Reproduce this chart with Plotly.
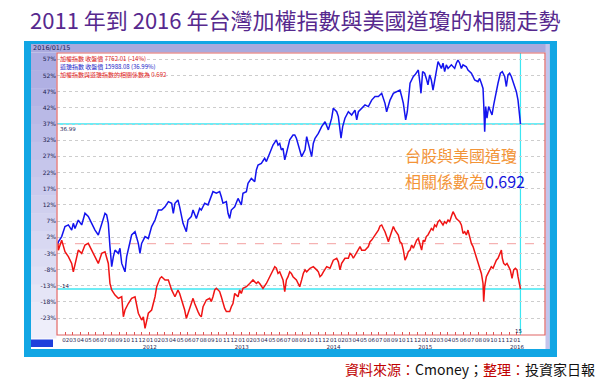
import numpy as np
import pandas as pd
import plotly.graph_objects as go

# ---------------- data ----------------
# time in years since 2011-01-01, values in % change since start
DJ_T = [0.000,0.004,0.040,0.076,0.113,0.149,0.167,0.185,0.221,0.258,0.294,0.330,0.367,0.403,0.439,0.476,0.512,0.530,0.548,0.566,
        0.585,0.603,0.621,0.657,0.675,0.694,0.730,0.748,0.784,0.802,0.839,0.875,0.893,0.911,0.948,0.984,1.020,1.057,1.093,1.129,
        1.166,1.202,1.238,1.256,1.274,1.307,1.325,1.344,1.362,1.398,1.416,1.452,1.471,1.507,1.543,1.561,1.598,1.634,1.670,1.688,
        1.725,1.761,1.779,1.797,1.834,1.852,1.870,1.888,1.925,1.961,1.997,2.015,2.052,2.070,2.106,2.143,2.161,2.179,2.215,2.251,
        2.270,2.306,2.342,2.379,2.397,2.415,2.433,2.451,2.470,2.488,2.524,2.560,2.579,2.597,2.633,2.654,2.691,2.709,2.727,2.763,
        2.781,2.800,2.836,2.872,2.909,2.927,2.945,2.981,2.999,3.036,3.054,3.072,3.083,3.101,3.126,3.163,3.199,3.235,3.254,3.272,
        3.308,3.344,3.381,3.417,3.453,3.490,3.526,3.562,3.580,3.617,3.653,3.689,3.725,3.744,3.762,3.787,3.805,3.835,3.871,3.889,
        3.925,3.943,3.954,3.972,3.994,4.012,4.030,4.049,4.067,4.085,4.103,4.121,4.140,4.158,4.176,4.194,4.212,4.230,4.249,4.285,
        4.321,4.339,4.357,4.376,4.394,4.412,4.448,4.466,4.503,4.521,4.539,4.575,4.593,4.612,4.630,4.637,4.644,4.648,4.659,4.673,
        4.691,4.710,4.728,4.746,4.768,4.793,4.819,4.840,4.866,4.884,4.902,4.920,4.938,4.957,4.975,4.993,5.011,5.022,5.030,5.038]
DJ_V = [0.0,0.6,2.2,5.3,5.8,4.2,6.3,4.7,7.3,5.8,9.4,8.4,6.3,4.2,2.7,6.3,9.4,8.9,6.3,-0.9,
        -7.1,-4.0,-2.0,-3.0,-1.4,-6.1,-8.7,-4.0,1.1,2.7,3.7,0.1,-3.0,0.1,2.2,1.6,5.3,7.3,10.4,10.4,
        11.4,13.0,12.5,9.4,12.5,13.5,11.4,8.4,6.3,3.7,7.3,8.4,10.4,7.8,10.9,10.4,12.5,12.0,14.5,16.1,
        15.6,16.1,14.5,12.5,13.0,9.4,7.8,10.4,11.4,14.0,12.0,15.6,16.1,18.7,20.2,19.2,22.8,24.3,24.8,26.4,
        25.4,27.9,30.5,32.1,30.5,31.0,29.0,29.5,25.9,27.9,32.1,33.6,33.6,32.6,28.5,26.9,29.0,33.1,31.0,26.9,
        31.0,32.6,34.1,36.2,37.7,36.7,35.2,38.8,41.9,40.8,39.3,35.2,32.6,36.2,38.8,40.8,39.8,41.3,38.3,40.8,
        41.9,42.9,42.4,44.4,45.5,45.5,46.5,43.4,40.8,44.4,46.5,47.0,47.5,45.5,43.4,38.3,40.8,49.6,51.7,52.2,
        53.7,49.6,46.5,53.2,52.7,51.1,49.1,52.2,50.6,47.5,50.6,53.7,56.3,55.3,54.2,55.8,53.2,55.3,54.2,55.3,
        54.2,55.8,56.8,55.8,54.2,55.3,54.7,53.7,52.7,51.7,50.6,50.1,51.1,49.6,48.0,43.4,39.3,34.6,42.4,38.8,
        42.4,41.3,39.8,42.9,46.5,49.6,52.7,53.2,51.7,48.6,52.2,52.7,51.7,50.1,48.0,47.0,44.4,40.8,38.3,36.99]

TW_T = [0.000,0.004,0.040,0.076,0.113,0.149,0.167,0.185,0.221,0.258,0.294,0.330,0.367,0.403,0.439,0.476,0.512,0.548,0.566,0.585,
        0.621,0.657,0.694,0.712,0.730,0.766,0.802,0.839,0.857,0.875,0.911,0.930,0.948,0.966,0.984,1.020,1.057,1.075,1.111,1.129,
        1.166,1.202,1.238,1.274,1.307,1.325,1.362,1.380,1.398,1.416,1.434,1.452,1.471,1.489,1.507,1.525,1.543,1.561,1.580,1.598,
        1.616,1.652,1.670,1.688,1.707,1.725,1.761,1.779,1.797,1.816,1.834,1.870,1.888,1.906,1.925,1.961,1.979,1.997,2.015,2.052,
        2.088,2.106,2.124,2.161,2.179,2.197,2.233,2.270,2.306,2.342,2.361,2.379,2.397,2.415,2.433,2.451,2.470,2.488,2.506,2.524,
        2.542,2.560,2.597,2.615,2.633,2.654,2.672,2.691,2.709,2.745,2.781,2.818,2.836,2.854,2.872,2.891,2.927,2.963,2.981,2.999,
        3.036,3.054,3.072,3.090,3.126,3.163,3.181,3.199,3.217,3.254,3.272,3.290,3.308,3.344,3.381,3.399,3.417,3.453,3.490,3.508,
        3.526,3.544,3.562,3.588,3.599,3.617,3.653,3.671,3.707,3.725,3.744,3.762,3.780,3.798,3.816,3.835,3.853,3.871,3.907,3.925,
        3.943,3.961,3.979,3.994,4.012,4.030,4.049,4.067,4.085,4.103,4.121,4.140,4.158,4.176,4.194,4.212,4.230,4.249,4.267,4.285,
        4.303,4.321,4.339,4.357,4.376,4.394,4.412,4.430,4.448,4.466,4.485,4.503,4.521,4.539,4.557,4.575,4.593,4.612,4.630,4.637,
        4.648,4.666,4.684,4.702,4.720,4.739,4.757,4.775,4.793,4.811,4.830,4.840,4.855,4.873,4.891,4.909,4.927,4.946,4.964,4.982,
        5.000,5.011,5.022,5.030,5.038]
TW_V = [0.0,-2.0,1.1,-2.5,-4.0,-6.1,-8.7,-6.1,-2.0,-3.0,-0.4,0.1,-2.0,-4.0,-6.1,-3.0,-2.5,-6.1,-12.3,-14.3,
        -15.9,-16.9,-16.4,-22.6,-20.5,-18.5,-16.9,-16.4,-18.5,-21.5,-23.6,-22.6,-26.2,-24.1,-21.5,-20.5,-16.4,-13.3,-10.7,-10.2,
        -11.2,-11.2,-14.3,-16.4,-14.3,-15.4,-18.5,-20.5,-23.1,-21.5,-19.5,-18.5,-16.9,-18.5,-20.0,-21.0,-22.1,-22.6,-19.5,-18.5,
        -17.4,-16.9,-17.9,-16.4,-14.3,-13.8,-14.8,-16.4,-18.5,-20.0,-21.0,-21.0,-19.5,-18.5,-15.4,-16.4,-14.3,-15.4,-13.8,-13.3,
        -12.3,-11.8,-11.2,-12.3,-11.8,-12.3,-13.8,-12.3,-10.2,-8.1,-7.1,-7.6,-9.2,-8.7,-10.2,-11.2,-14.8,-11.2,-10.2,-8.7,
        -9.2,-10.2,-11.2,-12.3,-13.3,-11.2,-9.2,-8.1,-8.7,-7.6,-7.1,-8.1,-8.7,-10.2,-9.7,-8.7,-7.1,-7.6,-6.1,-5.1,
        -4.5,-5.6,-8.1,-6.1,-4.5,-4.5,-3.0,-3.5,-4.5,-2.5,-1.4,-0.9,-2.0,-2.0,-0.9,0.6,1.1,2.7,4.2,5.5,
        5.8,4.7,3.7,1.6,0.6,2.2,5.3,4.2,2.7,0.6,0.1,-2.0,-5.1,-4.0,-2.5,-2.0,-0.4,-1.4,1.1,1.6,
        0.1,-2.0,1.1,0.6,2.2,2.7,3.7,4.7,4.2,5.8,5.3,6.8,7.3,6.3,5.8,6.8,6.3,7.3,6.8,8.4,
        9.9,8.9,7.8,7.3,6.8,5.8,3.2,3.7,2.7,4.2,2.2,0.1,-0.9,-2.5,-4.5,-5.6,-7.1,-9.2,-12.3,-17.9,
        -13.3,-10.2,-9.2,-8.1,-7.1,-7.6,-6.1,-5.1,-4.5,-3.5,-2.0,-4.5,-6.1,-6.6,-6.1,-7.1,-8.1,-10.7,-8.1,-7.6,
        -8.1,-10.2,-12.3,-13.5,-14.0]

Y_TICKS = [57, 52, 47, 42, 37, 32, 27, 22, 17, 12, 7, 2, -3, -8, -13, -18, -23]
END_DATE = "2016-01-15"
DJ_END = 36.99
TW_END = -14
LEGEND_LINES = ["加權指數 收盤價 7762.01 (-14%)",
                "道瓊指數 收盤價 15988.08 (36.99%)",
                "加權指數與道瓊指數的相關係數為 0.692"]
TITLE = "2011 年到 2016 年台灣加權指數與美國道瓊的相關走勢"

# ---------------- helpers ----------------
W, H = 600, 391
def px(x): return x / W
def py(y): return 1 - y / H

START = pd.Timestamp("2011-01-01")
def to_dates(ts):
    return [START + pd.Timedelta(days=t * 365.25) for t in ts]

FONT = "Noto Sans CJK TC"
BLUE = "#1414ee"
RED = "#f01414"

fig = go.Figure()
fig.add_trace(go.Scatter(x=to_dates(DJ_T), y=DJ_V, mode="lines",
                         line=dict(color=BLUE, width=1.5), name="道瓊指數", hoverinfo="skip"))
fig.add_trace(go.Scatter(x=to_dates(TW_T), y=TW_V, mode="lines",
                         line=dict(color=RED, width=1.5), name="加權指數", hoverinfo="skip"))

# month ticks
months = pd.date_range("2011-02-01", "2016-01-01", freq="MS")
ticktext = [m.strftime("%m") + ("<br>" + m.strftime("%Y") if m.month == 1 else "") for m in months]

x0_date = START + pd.Timedelta(days=(57 - 58) / 91.8 * 365.25)
x1_date = START + pd.Timedelta(days=(545 - 58) / 91.8 * 365.25)

shapes = []
# outer cyan frame
shapes.append(dict(type="rect", xref="paper", yref="paper", x0=px(24), x1=px(557), y0=py(357), y1=py(41),
                   fillcolor="#12a6e4", line_width=0, layer="below"))
# inner white panel
shapes.append(dict(type="rect", xref="paper", yref="paper", x0=px(31), x1=px(549.5), y0=py(349), y1=py(44),
                   fillcolor="white", line_width=0, layer="below"))
# top bar
shapes.append(dict(type="rect", xref="paper", yref="paper", x0=px(31), x1=px(549.5), y0=py(52.5), y1=py(44),
                   fillcolor="#a9a9dd", line_width=0, layer="below"))
# right strip
shapes.append(dict(type="rect", xref="paper", yref="paper", x0=px(545.5), x1=px(549.5), y0=py(349), y1=py(44),
                   fillcolor="#c4c4ec", line_width=0, layer="below"))
# left gradient column
n = 16
top_y, bot_y = 52.5, 338
c0 = np.array([172, 172, 226]); c1 = np.array([238, 238, 250])
for i in range(n):
    f = i / (n - 1)
    c = (c0 + (c1 - c0) * f).astype(int)
    ya = top_y + (bot_y - top_y) * i / n
    yb = top_y + (bot_y - top_y) * (i + 1) / n
    shapes.append(dict(type="rect", xref="paper", yref="paper", x0=px(31), x1=px(56.5), y0=py(yb + 0.5), y1=py(ya),
                       fillcolor=f"rgb({c[0]},{c[1]},{c[2]})", line_width=0, layer="below"))
# small blue box bottom-left
shapes.append(dict(type="rect", xref="paper", yref="paper", x0=px(31), x1=px(53), y0=py(347), y1=py(339.5),
                   fillcolor="#1f3fdc", line_width=0, layer="below"))

# reference lines
shapes.append(dict(type="line", xref="x domain", yref="y", x0=0, x1=1, y0=0, y1=0,
                   line=dict(color="#f3a0a0", width=1, dash="dash"), layer="below"))
shapes.append(dict(type="line", xref="x domain", yref="y", x0=0, x1=1, y0=DJ_END, y1=DJ_END,
                   line=dict(color="#3ce6f2", width=1.5), layer="below"))
shapes.append(dict(type="line", xref="x domain", yref="y", x0=0, x1=1, y0=TW_END, y1=TW_END,
                   line=dict(color="#3ce6f2", width=1.5), layer="below"))
shapes.append(dict(type="line", xref="x", yref="y domain", x0=END_DATE, x1=END_DATE, y0=0, y1=1,
                   line=dict(color="#3ce6f2", width=1.2), layer="below"))
# plot border
shapes.append(dict(type="rect", xref="x domain", yref="y domain", x0=0, x1=1, y0=0, y1=1,
                   line=dict(color="#e06464", width=1.2), fillcolor="rgba(0,0,0,0)", layer="above"))

ann = []
def add_text(text, x, y, size, color, xanchor="left", family=FONT):
    ann.append(dict(text=text, x=px(x), y=py(y), xref="paper", yref="paper", showarrow=False,
                    xanchor=xanchor, yanchor="middle", borderpad=0,
                    font=dict(family=family, size=size, color=color)))

add_text(TITLE, 295, 19, 22, "#57298e", xanchor="center")
add_text("2016/01/15", 32, 48.5, 6.5, "#23235a", family="DejaVu Sans")
for i, (t, col) in enumerate(zip(LEGEND_LINES, ["#e01818", "#1c1cc8", "#e01818"])):
    add_text(t, 59, 58 + 8 * i, 6, col)
add_text(f"{DJ_END:.2f}", 59, 128.5, 5.5, "#202050", family="DejaVu Sans")
add_text(f"{TW_END}", 59, 285.5, 5.5, "#202050", family="DejaVu Sans")
add_text("15", 518, 331, 5.5, "#202050", xanchor="center", family="DejaVu Sans")
add_text("台股與美國道瓊", 404, 155, 16, "#f39437")
add_text("相關係數為<span style='color:#1616dc'>0.692</span>", 404, 181, 16, "#f39437")
add_text("<span style='color:#c00000'>資料來源：</span>Cmoney；<span style='color:#c00000'>整理：</span>投資家日報",
         596, 369, 14, "#111111", xanchor="right")

fig.update_layout(
    width=W, height=H, autosize=False,
    margin=dict(l=0, r=0, t=0, b=0),
    paper_bgcolor="white", plot_bgcolor="white",
    showlegend=False,
    shapes=shapes, annotations=ann,
    xaxis=dict(domain=[px(57), px(545)], type="date", range=[x0_date, x1_date],
               tickvals=list(months), ticktext=ticktext, tickangle=0,
               ticks="inside", ticklen=3, tickcolor="#e05050", showgrid=False, zeroline=False,
               showline=False, tickfont=dict(family="DejaVu Sans", size=5.5, color="#1e1e50")),
    yaxis=dict(domain=[py(335), py(53)], range=[-28.23, 58.96],
               tickvals=Y_TICKS, ticktext=[f"{v}%" for v in Y_TICKS],
               showgrid=True, gridcolor="#cdcdcd", griddash="dot", gridwidth=1,
               zeroline=False, showline=False, ticks="",
               tickfont=dict(family="DejaVu Sans", size=6, color="#1e1e50")),
)

fig.write_html("out.html", config={"displayModeBar": False},
               post_script="document.body.style.margin='0px';document.body.style.overflow='hidden';")
